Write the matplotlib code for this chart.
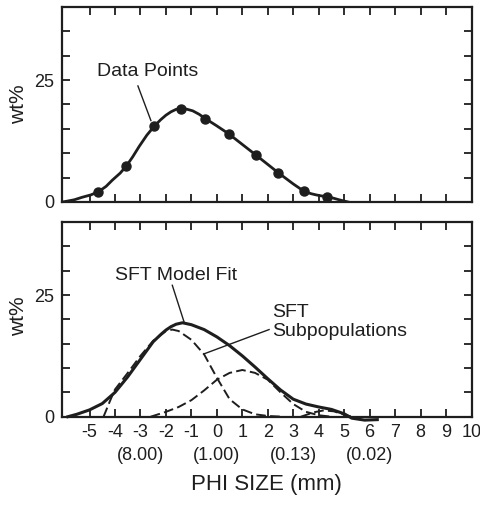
import matplotlib
matplotlib.use('Agg')
import matplotlib.pyplot as plt
from matplotlib.transforms import blended_transform_factory

plt.rcParams['font.family'] = ['Liberation Sans', 'DejaVu Sans']
plt.rcParams['axes.unicode_minus'] = False

INK = '#1e1e1e'

# ---------------- data ----------------
phi_ticks = [-5, -4, -3, -2, -1, 0, 1, 2, 3, 4, 5, 6, 7, 8, 9, 10]
phi_tick_labels = ['-5', '-4', '-3', '-2', '-1', '0', '1', '2', '3', '4', '5', '6', '7', '8', '9', '10']
wt_ticks = [0, 5, 10, 15, 20, 25, 30, 35, 40]
wt_tick_labels = ['0', '', '', '', '', '25', '', '', '']
mm_phi = [-3, 0, 3, 6]
mm_labels = ['(8.00)', '(1.00)', '(0.13)', '(0.02)']

# top panel: measured data points
data_phi = [-4.65, -3.55, -2.45, -1.4, -0.45, 0.46, 1.54, 2.41, 3.42, 4.32]
data_wt = [2.1, 7.4, 15.6, 19.0, 17.1, 14.0, 9.6, 6.0, 2.2, 1.1]

# top panel: fitted curve through the data
fit_top_phi = [-6.05, -5.6, -5.3, -4.95, -4.65, -4.35, -4.1, -3.8, -3.55, -3.3, -3.05, -2.75,
               -2.45, -2.2, -2.0, -1.8, -1.6, -1.3, -0.95, -0.7,
               -0.45, 0.0, 0.46, 1.0, 1.54, 2.0, 2.41, 3.0, 3.42, 3.7, 3.9, 4.1, 4.32, 4.6, 4.8, 5.15]
fit_top_wt = [0.0, 0.45, 0.95, 1.45, 2.1, 3.2, 4.5, 5.9, 7.4, 9.3, 11.4, 13.7,
              15.6, 16.9, 17.8, 18.5, 19.0, 19.2, 18.7, 18.0,
              17.1, 15.6, 14.0, 11.8, 9.6, 7.7, 6.0, 3.7, 2.2, 1.7, 1.45, 1.25, 1.1, 0.75, 0.45, 0.0]

# bottom panel: SFT model fit (solid)
model_phi = [-5.85, -5.5, -5.0, -4.5, -4.0, -3.5, -3.0, -2.5, -2.2, -2.0, -1.8, -1.6, -1.35, -1.0,
             -0.5, 0.0, 0.5, 1.0, 1.5, 2.0, 2.5, 3.0, 3.5, 4.0, 4.5, 5.0, 5.3, 5.8, 6.3]
model_wt = [0.0, 0.5, 1.4, 2.7, 5.0, 8.2, 11.8, 15.4, 16.9, 17.8, 18.5, 19.0, 19.3, 18.9,
            17.9, 16.4, 14.6, 12.5, 10.2, 7.8, 5.5, 3.6, 2.6, 2.0, 1.5, 0.6, -0.3, -0.7, -0.6]

# bottom panel: SFT subpopulations (dashed)
sub1_phi = [-4.45, -4.2, -4.0, -3.5, -3.0, -2.5, -2.0, -1.75, -1.5, -1.0, -0.5, 0.0, 0.5, 1.0, 1.5, 2.0, 2.6]
sub1_wt = [0.0, 3.2, 5.6, 9.0, 12.5, 15.6, 17.6, 17.9, 17.6, 15.8, 12.8, 8.0, 3.6, 1.5, 0.5, 0.15, 0.0]

sub2_phi = [-2.6, -2.0, -1.5, -1.0, -0.5, 0.0, 0.5, 1.0, 1.5, 2.0, 2.5, 3.0, 3.5, 4.0, 4.5]
sub2_wt = [0.0, 1.0, 2.0, 3.4, 5.4, 7.6, 9.0, 9.6, 9.0, 7.6, 5.0, 2.6, 1.0, 0.3, 0.0]

sub3_phi = [3.3, 3.8, 4.2, 4.6, 5.0, 5.3]
sub3_wt = [0.0, 0.9, 1.3, 1.1, 0.4, 0.0]

# ---------------- figure ----------------
fig = plt.figure(figsize=(4.81, 5.08), dpi=100)
ax1 = fig.add_axes([0.1279, 0.6024, 0.8524, 0.3839])
ax2 = fig.add_axes([0.1279, 0.1797, 0.8524, 0.3833])

for ax in (ax1, ax2):
    ax.set_xlim(-6.1, 10)
    ax.set_ylim(0, 40)
    ax.set_xticks(phi_ticks)
    ax.set_yticks(wt_ticks)
    ax.set_yticklabels(wt_tick_labels)
    ax.tick_params(direction='in', length=6, width=1.3, top=True, right=True,
                   color=INK, labelcolor=INK, labelsize=13, pad=5)
    for s in ax.spines.values():
        s.set_linewidth(1.6)
        s.set_color(INK)

ax1.tick_params(labelbottom=False)
ax2.set_xticklabels(phi_tick_labels)

# top panel
ax1.plot(fit_top_phi, fit_top_wt, color=INK, lw=2.0, solid_joinstyle='round')
ax1.plot(data_phi, data_wt, 'o', color=INK, markersize=6.5)
ax1.text(-2.70, 25.8, 'Data Points', ha='center', va='baseline', fontsize=14, color=INK)
ax1.plot([-3.10, -2.59], [23.8, 16.7], color=INK, lw=1.0)

# bottom panel
ax2.plot(model_phi, model_wt, color=INK, lw=2.2, clip_on=False, solid_joinstyle='round')
for px, wy in ((sub1_phi, sub1_wt), (sub2_phi, sub2_wt), (sub3_phi, sub3_wt)):
    ax2.plot(px, wy, color=INK, lw=1.4, dashes=(5, 2.2))
ax2.text(-1.62, 28.0, 'SFT Model Fit', ha='center', va='baseline', fontsize=14, color=INK)
ax2.plot([-1.75, -1.29], [27.0, 19.5], color=INK, lw=1.0)
ax2.text(2.16, 20.4, 'SFT', ha='left', va='baseline', fontsize=14, color=INK)
ax2.text(2.16, 16.6, 'Subpopulations', ha='left', va='baseline', fontsize=14, color=INK)
ax2.plot([2.05, -0.51], [17.9, 12.9], color=INK, lw=1.0)

trans = blended_transform_factory(ax2.transData, ax2.transAxes)
for p, lab in zip(mm_phi, mm_labels):
    ax2.text(p, -0.197, lab, transform=trans, ha='center', va='center', fontsize=13, color=INK)

ax2.text(0.5, -0.346, 'PHI SIZE (mm)', transform=ax2.transAxes, ha='center', va='center',
         fontsize=16, color=INK)

fig.text(19 / 481, 1 - 104 / 508, 'wt%', rotation=90, ha='center', va='center', fontsize=15, color=INK)
fig.text(19 / 481, 1 - 316.5 / 508, 'wt%', rotation=90, ha='center', va='center', fontsize=15, color=INK)

fig.savefig('out.png', dpi=100)
